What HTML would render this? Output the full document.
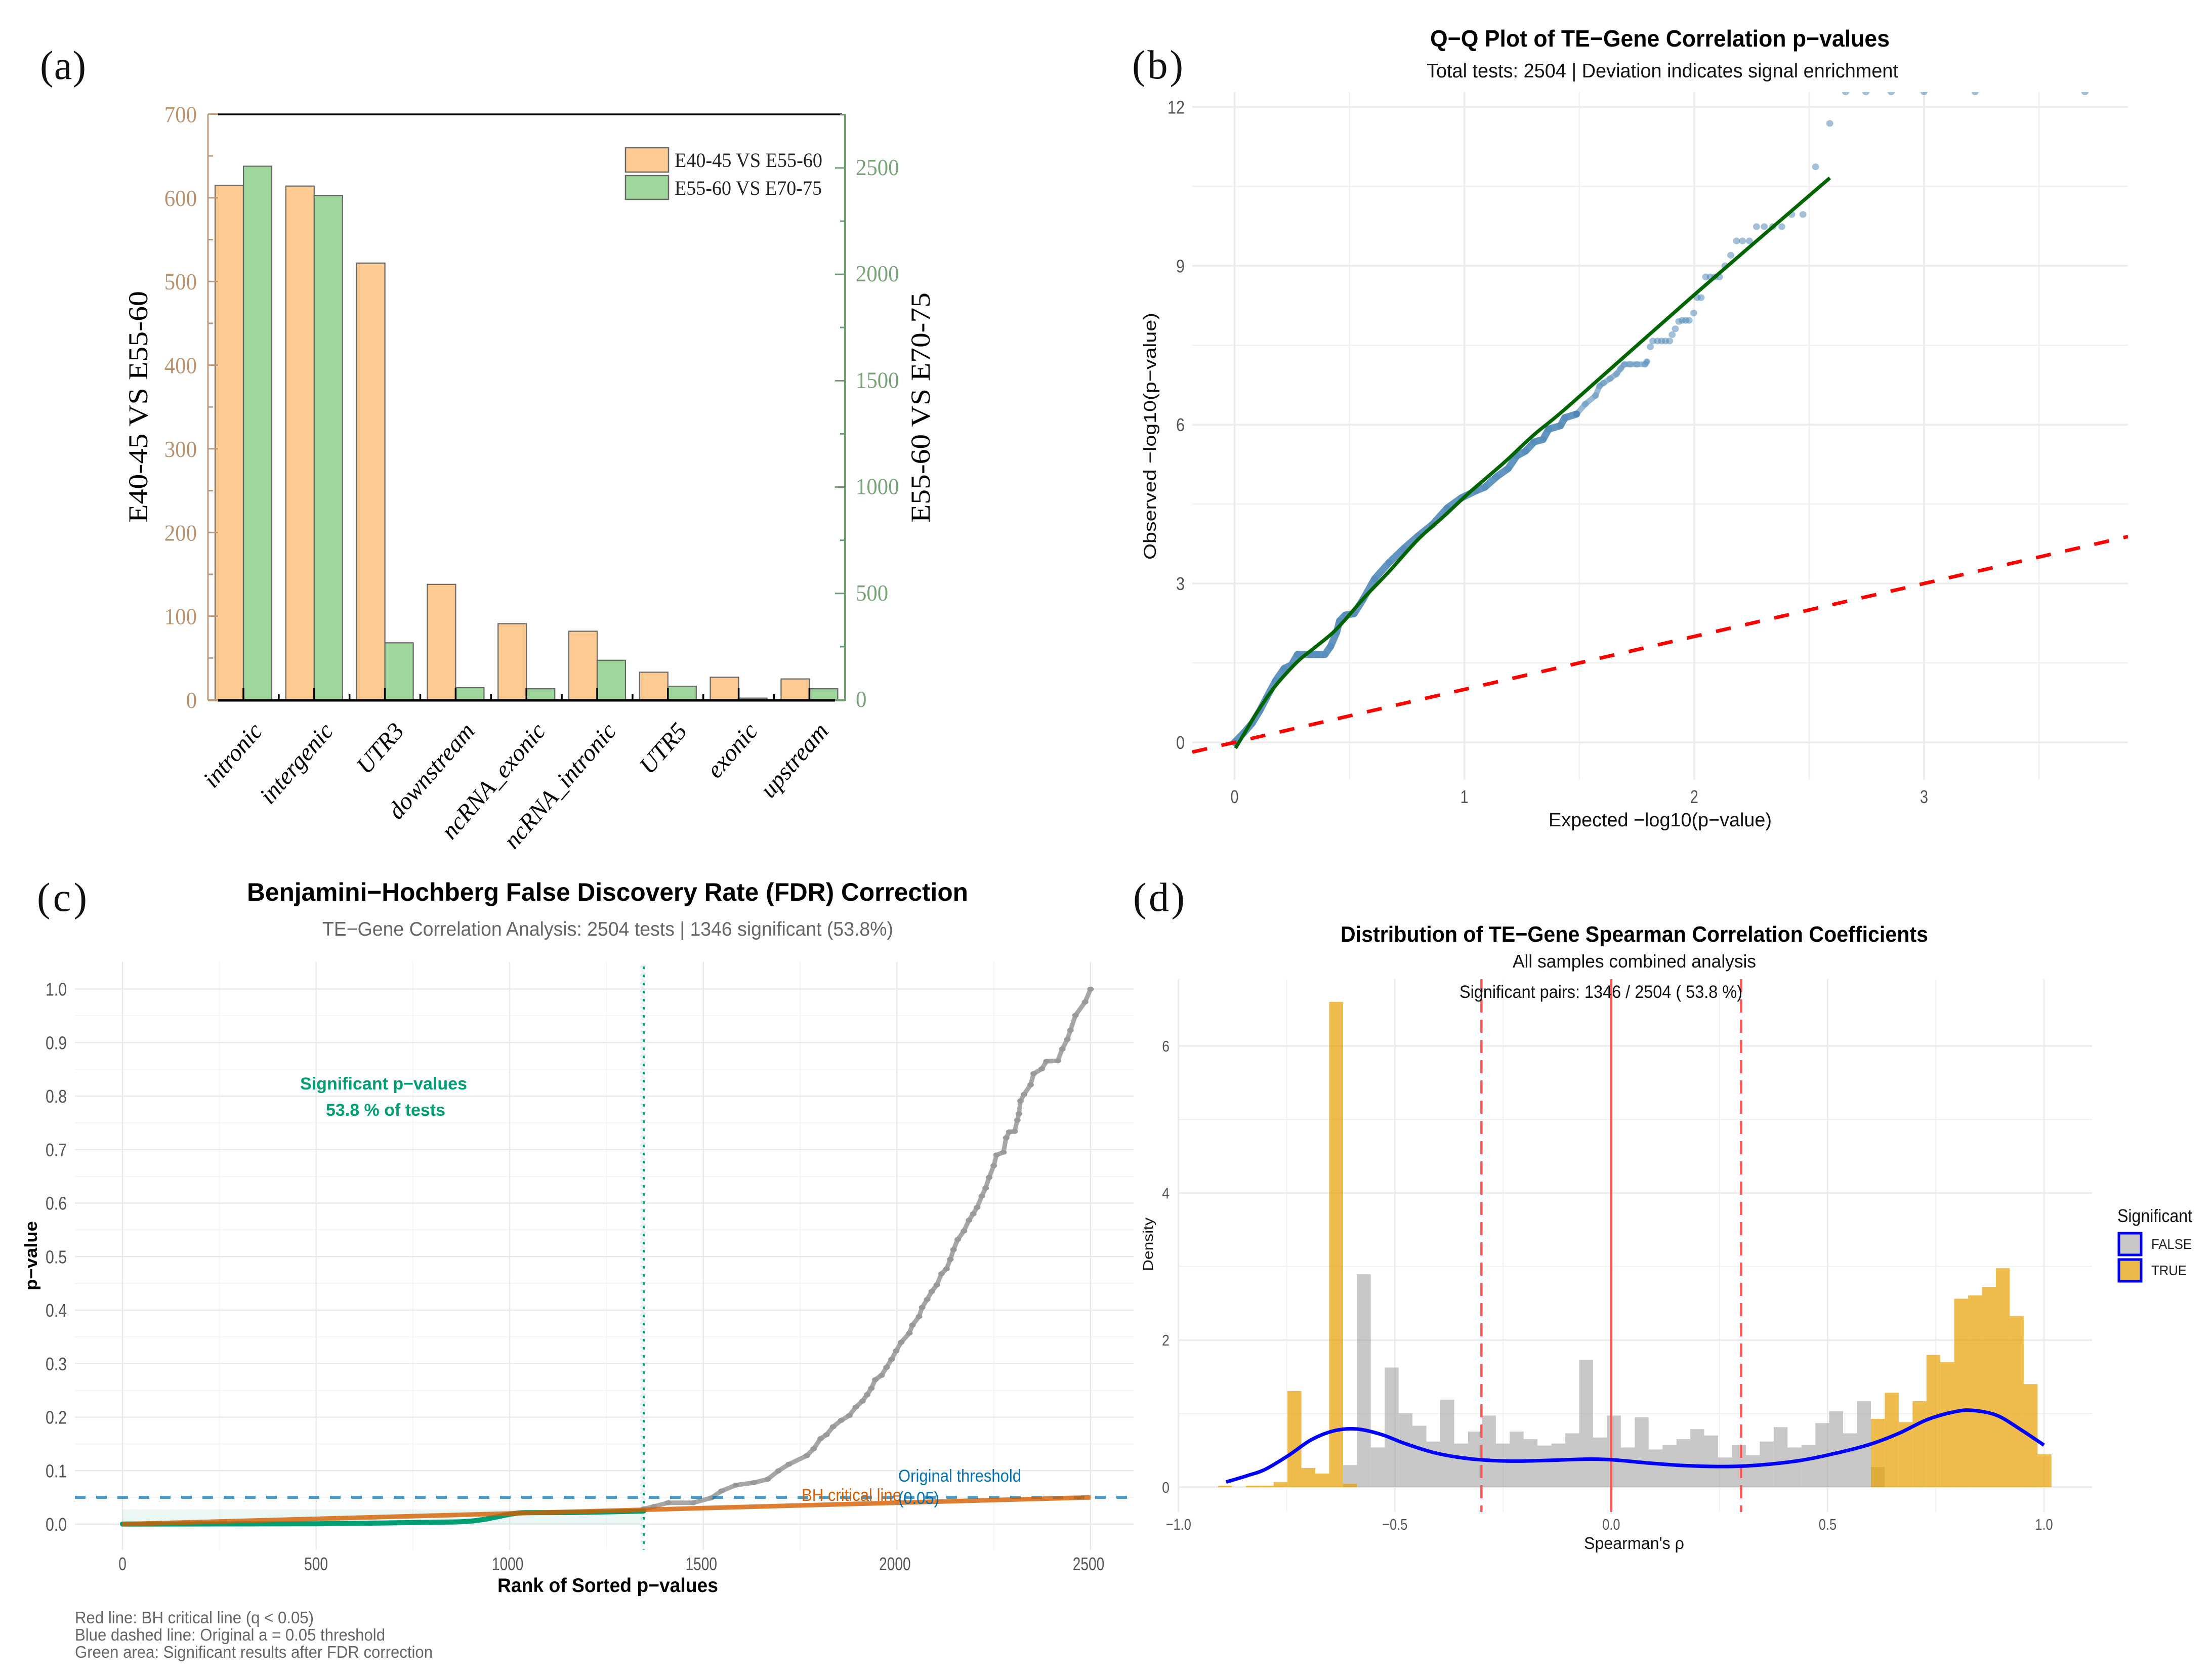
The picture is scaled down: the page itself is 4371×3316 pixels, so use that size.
<!DOCTYPE html>
<html lang="en">
<head>
<meta charset="utf-8">
<title>TE-Gene correlation figure</title>
<style>
html,body{margin:0;padding:0;background:#fff;}
svg{display:block;position:absolute;left:0;top:0;}
text{font-family:"Liberation Sans",sans-serif;}
.serif{font-family:"Liberation Serif",serif;}
</style>
</head>
<body>
<svg id="figure" xmlns="http://www.w3.org/2000/svg" width="4371" height="3316" viewBox="0 0 4371 3316">
  <defs>
    <clipPath id="clip-b"><rect x="2356" y="182" width="1849" height="1359"/></clipPath>
    <clipPath id="clip-c"><rect x="148" y="1901" width="2092" height="1162"/></clipPath>
    <clipPath id="clip-d"><rect x="2329" y="1935" width="1805" height="1053"/></clipPath>
  </defs>
  <rect x="0" y="0" width="4371" height="3316" fill="#ffffff"/>

  <g id="panel-a"></g>
  <g id="panel-b"></g>
  <g id="panel-c"></g>
  <g id="panel-d"></g>

  <!-- panel letters -->
  <text class="serif" x="79" y="156" font-size="80" textLength="91" lengthAdjust="spacing" fill="#111">(a)</text>
  <text class="serif" x="2237" y="155" font-size="80" textLength="101" lengthAdjust="spacing" fill="#111">(b)</text>
  <text class="serif" x="73" y="1800" font-size="80" textLength="99" lengthAdjust="spacing" fill="#111">(c)</text>
  <text class="serif" x="2239" y="1800" font-size="80" textLength="102" lengthAdjust="spacing" fill="#111">(d)</text>

  <!-- panel a static text -->
  <text class="serif" transform="translate(291,1033) rotate(-90)" font-size="54" textLength="458" lengthAdjust="spacingAndGlyphs" fill="#000">E40-45 VS E55-60</text>
  <text class="serif" transform="translate(1837,1033) rotate(-90)" font-size="54" textLength="455" lengthAdjust="spacingAndGlyphs" fill="#000">E55-60 VS E70-75</text>
  <rect x="1236" y="292" width="85" height="48" fill="#fdcb92" stroke="#666" stroke-width="2.5"/>
  <rect x="1236" y="347" width="85" height="47" fill="#9ed69b" stroke="#666" stroke-width="2.5"/>
  <text class="serif" x="1333" y="330" font-size="40" textLength="292" lengthAdjust="spacingAndGlyphs" fill="#222">E40-45 VS E55-60</text>
  <text class="serif" x="1333" y="385" font-size="40" textLength="291" lengthAdjust="spacingAndGlyphs" fill="#222">E55-60 VS E70-75</text>

  <!-- panel b static text -->
  <text x="2826" y="92" font-size="46" font-weight="bold" textLength="908" lengthAdjust="spacingAndGlyphs" fill="#000">Q−Q Plot of TE−Gene Correlation p−values</text>
  <text x="2819" y="153" font-size="39" textLength="932" lengthAdjust="spacingAndGlyphs" fill="#111">Total tests: 2504 | Deviation indicates signal enrichment</text>
  <text x="3060" y="1633" font-size="38" textLength="441" lengthAdjust="spacingAndGlyphs" fill="#111">Expected −log10(p−value)</text>
  <text transform="translate(2284,1106) rotate(-90)" font-size="34" textLength="488" lengthAdjust="spacingAndGlyphs" fill="#111">Observed −log10(p−value)</text>

  <!-- panel c static text -->
  <text x="488" y="1780" font-size="50" font-weight="bold" textLength="1425" lengthAdjust="spacingAndGlyphs" fill="#000">Benjamini−Hochberg False Discovery Rate (FDR) Correction</text>
  <text x="637" y="1849" font-size="39" textLength="1128" lengthAdjust="spacingAndGlyphs" fill="#666">TE−Gene Correlation Analysis: 2504 tests | 1346 significant (53.8%)</text>
  <text x="983" y="3146" font-size="39" font-weight="bold" textLength="436" lengthAdjust="spacingAndGlyphs" fill="#000">Rank of Sorted p−values</text>
  <text transform="translate(73,2550) rotate(-90)" font-size="34" font-weight="bold" textLength="137" lengthAdjust="spacingAndGlyphs" fill="#000">p−value</text>
  <text x="148" y="3208" font-size="33" textLength="472" lengthAdjust="spacingAndGlyphs" fill="#666">Red line: BH critical line (q &lt; 0.05)</text>
  <text x="148" y="3242" font-size="33" textLength="613" lengthAdjust="spacingAndGlyphs" fill="#666">Blue dashed line: Original a = 0.05 threshold</text>
  <text x="148" y="3276" font-size="33" textLength="707" lengthAdjust="spacingAndGlyphs" fill="#666">Green area: Significant results after FDR correction</text>

  <!-- panel d static text -->
  <text x="2649" y="1861" font-size="44" font-weight="bold" textLength="1161" lengthAdjust="spacingAndGlyphs" fill="#000">Distribution of TE−Gene Spearman Correlation Coefficients</text>
  <text x="2989" y="1912" font-size="36" textLength="481" lengthAdjust="spacingAndGlyphs" fill="#111">All samples combined analysis</text>
  <text x="3130" y="3061" font-size="33" textLength="198" lengthAdjust="spacingAndGlyphs" fill="#111">Spearman's ρ</text>
  <text transform="translate(2278,2512) rotate(-90)" font-size="28" textLength="106" lengthAdjust="spacingAndGlyphs" fill="#111">Density</text>
  <text x="4184" y="2415" font-size="36" textLength="148" lengthAdjust="spacingAndGlyphs" fill="#111">Significant</text>
  <rect x="4187" y="2437" width="44" height="43" fill="#c8c8c8" stroke="#0000ff" stroke-width="5"/>
  <rect x="4187" y="2489" width="44" height="43" fill="#ebb84a" stroke="#0000ff" stroke-width="5"/>
  <text x="4251" y="2468" font-size="28" textLength="80" lengthAdjust="spacingAndGlyphs" fill="#222">FALSE</text>
  <text x="4251" y="2520" font-size="28" textLength="70" lengthAdjust="spacingAndGlyphs" fill="#222">TRUE</text>
</svg>

<script>
// ---------- Panel (a) data ----------
const barCategories = ['intronic','intergenic','UTR3','downstream','ncRNA_exonic','ncRNA_intronic','UTR5','exonic','upstream'];
const barE40Values = [615,614,522,138,91,82,33,27,25];
const barE55Values = [2508,2371,268,57,52,186,64,8,52];
const barLeftTicks = [0,100,200,300,400,500,600,700];
const barRightTicks = [0,500,1000,1500,2000,2500];

// ---------- Panel (b) data ----------
const qqDenseExpected = [0,.04,.077,.11,.14,.178,.216,.248,.274,.30,.33,.36,.393,.418,.444,.457,.482,.52,.558,.609,.672,.735,.799,.862,.925,.988,1.051,1.089,1.14,1.19,1.228,1.266,1.304,1.342,1.367,1.418,1.437,1.488,1.526,1.571,1.588,1.605,1.634,1.662,1.68,1.696,1.72,1.75,1.786,1.794];
const qqDenseObserved = [0,.18,.364,.6,.848,1.157,1.396,1.463,1.66,1.66,1.66,1.66,1.66,1.813,2.076,2.295,2.405,2.43,2.69,3.085,3.394,3.656,3.898,4.117,4.424,4.62,4.753,4.82,5.017,5.17,5.41,5.5,5.675,5.72,5.916,5.98,6.13,6.2,6.39,6.55,6.73,6.786,6.87,6.957,7.06,7.14,7.14,7.14,7.14,7.19];
const qqSparseExpected = [1.809,1.82,1.84,1.858,1.875,1.893,1.904,1.918,1.933,1.948,1.963,1.978,1.998,2.013,2.03,2.05,2.07,2.09,2.11,2.134,2.159,2.184,2.21,2.24,2.271,2.305,2.342,2.381,2.424,2.473,2.528,2.59,2.659,2.747,2.857,3.0,3.222,3.70];
const qqSparseObserved = [7.47,7.58,7.58,7.58,7.58,7.58,7.70,7.81,7.95,7.97,7.97,7.97,8.11,8.40,8.40,8.79,8.79,8.79,8.79,9.0,9.2,9.47,9.47,9.47,9.74,9.74,9.74,9.74,9.97,9.97,10.87,11.69,12.285,12.285,12.285,12.285,12.285,12.285];
const qqFitExpected = [.004,.04,.1,.166,.216,.28,.343,.425,.482,.57,.671,.798,.911,1.025,1.177,1.303,1.461,2.0,2.59];
const qqFitObserved = [-.11,.15,.58,1.0,1.26,1.55,1.77,2.06,2.32,2.76,3.22,3.83,4.27,4.73,5.30,5.81,6.38,8.45,10.66];
const qqXTicks = [0,1,2,3];
const qqYTicks = [0,3,6,9,12];
const qqXMinor = [0.5,1.5,2.5,3.5];
const qqYMinor = [1.5,4.5,7.5,10.5];

// ---------- Panel (c) data ----------
const fdrGreyRanks = [1346,1372,1409,1474,1520,1547,1584,1630,1666,1694,1721,1767,1785,1803,1818,1835,1856,1877,1894,1911,1923,1934,1944,1960,1973,1986,1998,2011,2032,2040,2057,2065,2078,2090,2103,2115,2128,2138,2146,2157,2173,2186,2197,2207,2219,2229,2238,2250,2257,2275,2282,2290,2304,2311,2315,2319,2328,2345,2353,2374,2386,2415,2427,2440,2448,2461,2486,2500];
const fdrGreyValues = [.0287,.033,.040,.040,.049,.062,.073,.0775,.084,.0996,.112,.128,.141,.160,.167,.182,.194,.203,.219,.230,.242,.254,.270,.278,.293,.308,.324,.340,.357,.372,.388,.405,.420,.435,.447,.468,.477,.495,.513,.532,.548,.568,.580,.592,.613,.628,.648,.670,.690,.695,.722,.733,.734,.755,.767,.791,.803,.821,.842,.851,.865,.866,.888,.906,.923,.951,.976,1.0];
const fdrGreenRanks = [0,250,500,700,800,860,896,930,960,1000,1025,1040,1100,1200,1346];
const fdrGreenValues = [.0002,.0005,.0008,.0025,.0035,.0042,.0055,.0085,.0126,.0185,.021,.0215,.0217,.0222,.0245];
const fdrBhRanks = [0,2500];
const fdrBhValues = [0,.05];
const fdrSignificantRank = 1346;
const fdrAreaTop = .0277;
const fdrThreshold = .05;
const fdrXTicks = [0,500,1000,1500,2000,2500];
const fdrXMinor = [250,750,1250,1750,2250];
const fdrYTicks = [0,.1,.2,.3,.4,.5,.6,.7,.8,.9,1];
const fdrYMinor = [.05,.15,.25,.35,.45,.55,.65,.75,.85,.95];

// ---------- Panel (d) data ----------
const histBinStart = -.9087;
const histBinWidth = .0321;
const histGreyBins = [0,0,0,0,0,0,0,0,0,.30,2.895,.54,1.627,1.004,.835,.62,1.19,.593,.756,.974,.593,.756,.653,.566,.593,.732,1.728,.675,.974,.539,.952,.512,.571,.653,.789,.702,.403,.571,.435,.62,.816,.539,.571,.871,1.034,.732,1.17,.272];
const histGoldBins = [.02,0,.02,.02,.07,1.306,.26,.185,6.6,.044,0,0,0,0,0,0,0,0,0,0,0,0,0,0,0,0,0,0,0,0,0,0,0,0,0,0,0,0,0,0,0,0,0,0,0,0,0,.928,1.284,.884,1.17,1.796,1.70,2.563,2.607,2.724,2.977,2.327,1.401,.446];
const densityRho = [-.89,-.84,-.8,-.746,-.692,-.638,-.587,-.531,-.477,-.41,-.343,-.276,-.209,-.128,-.048,.006,.087,.167,.261,.342,.436,.516,.597,.664,.731,.798,.839,.892,.946,1.0];
const densityValues = [.07,.158,.24,.43,.648,.77,.79,.716,.593,.47,.397,.362,.354,.367,.381,.37,.327,.294,.28,.30,.362,.457,.58,.73,.92,1.03,1.042,.974,.784,.571];
const histXTicks = [-1,-.5,0,.5,1];
const histXTickLabels = ['−1.0','−0.5','0.0','0.5','1.0'];
const histXMinor = [-.75,-.25,.25,.75];
const histYTicks = [0,2,4,6];
const histYMinor = [1,3,5];
const histDashRefs = [-.3,.3];
const histZeroRef = 0;

// ---------- helpers ----------
const NS = 'http://www.w3.org/2000/svg';
function mk(parent, tag, attrs) {
  const el = document.createElementNS(NS, tag);
  for (const k in attrs) el.setAttribute(k, attrs[k]);
  parent.appendChild(el);
  return el;
}
function linear(d0, d1, r0, r1) {
  return v => r0 + (v - d0) * (r1 - r0) / (d1 - d0);
}
function squeeze(el, factor) {
  const n = el.getComputedTextLength();
  el.setAttribute('textLength', (n * factor).toFixed(1));
  el.setAttribute('lengthAdjust', 'spacingAndGlyphs');
}
function pathOf(xs, ys, fx, fy) {
  return xs.map((x, i) => (i ? 'L' : 'M') + fx(x).toFixed(1) + ' ' + fy(ys[i]).toFixed(1)).join('');
}
// Catmull-Rom smoothing through the data points, for curves that are smooth in the source
function smoothOf(xs, ys, fx, fy) {
  const px = xs.map(fx), py = ys.map(fy);
  let d = 'M' + px[0].toFixed(1) + ' ' + py[0].toFixed(1);
  for (let i = 0; i < px.length - 1; i++) {
    const a = Math.max(i - 1, 0), b = Math.min(i + 2, px.length - 1);
    const c1x = px[i] + (px[i + 1] - px[a]) / 6, c1y = py[i] + (py[i + 1] - py[a]) / 6;
    const c2x = px[i + 1] - (px[b] - px[i]) / 6, c2y = py[i + 1] - (py[b] - py[i]) / 6;
    d += 'C' + c1x.toFixed(1) + ' ' + c1y.toFixed(1) + ' ' + c2x.toFixed(1) + ' ' + c2y.toFixed(1) + ' ' + px[i + 1].toFixed(1) + ' ' + py[i + 1].toFixed(1);
  }
  return d;
}

// ---------- Panel (a) ----------
(function () {
  const g = document.getElementById('panel-a');
  const yL = linear(0, 700, 1383, 225.5);
  const yR = linear(0, 2753, 1383, 225.5);
  const catX = linear(0, 1, 481, 620.8);
  const bw = 56;
  const tan = '#bd9a7a', grn = '#6f9d6f';

  barCategories.forEach((c, i) => {
    const a = mk(g, 'rect', {x: catX(i) - bw, y: yL(barE40Values[i]), width: bw, height: 1383 - yL(barE40Values[i]), fill: '#fdcb92', stroke: '#666666', 'stroke-width': 2.2});
    
    
    const b = mk(g, 'rect', {x: catX(i), y: yR(barE55Values[i]), width: bw, height: 1383 - yR(barE55Values[i]), fill: '#9ed69b', stroke: '#666666', 'stroke-width': 2.2});
    
    
  });

  const leftAxis = mk(g, 'line', {x1: 411, x2: 411, y1: 225.5, y2: 1384, stroke: tan, 'stroke-width': 3});
  
  
  const rightAxis = mk(g, 'line', {x1: 1670, x2: 1670, y1: 225.5, y2: 1385, stroke: grn, 'stroke-width': 4});
  
  
  const topAxis = mk(g, 'line', {x1: 431, x2: 1664, y1: 226, y2: 226, stroke: '#000', 'stroke-width': 3.5});
  
  
  const bottomAxis = mk(g, 'line', {x1: 430, x2: 1650, y1: 1384, y2: 1384, stroke: '#000', 'stroke-width': 5});
  
  
  const leftStub = mk(g, 'line', {x1: 411, x2: 431, y1: 1384, y2: 1384, stroke: tan, 'stroke-width': 4});
  
  
  const rightStub = mk(g, 'line', {x1: 1650, x2: 1670, y1: 1384, y2: 1384, stroke: grn, 'stroke-width': 4});
  
  

  barLeftTicks.forEach((t) => {
    const tick = mk(g, 'line', {x1: 411, x2: 431, y1: yL(t), y2: yL(t), stroke: tan, 'stroke-width': 3});
    
    
    if (t < 700) {
      const m = mk(g, 'line', {x1: 411, x2: 421, y1: yL(t + 50), y2: yL(t + 50), stroke: tan, 'stroke-width': 3});
      
      
    }
    const lab = mk(g, 'text', {x: 389, y: yL(t) + 16, 'font-size': 46, 'text-anchor': 'end', fill: '#b9926f', class: 'serif'});
    lab.textContent = String(t);
    squeeze(lab, .93);
    
    
  });

  barRightTicks.forEach((t) => {
    const tick = mk(g, 'line', {x1: 1670, x2: 1650, y1: yR(t), y2: yR(t), stroke: grn, 'stroke-width': 3});
    
    
    const mv = t + 250;
    if (mv < 2753) {
      const m = mk(g, 'line', {x1: 1670, x2: 1660, y1: yR(mv), y2: yR(mv), stroke: grn, 'stroke-width': 3});
      
      
    }
    const lab = mk(g, 'text', {x: 1691, y: yR(t) + 14, 'font-size': 46, fill: '#77a377', class: 'serif'});
    lab.textContent = String(t);
    squeeze(lab, .93);
    
    
  });

  barCategories.forEach((c, i) => {
    const t1 = mk(g, 'line', {x1: catX(i), x2: catX(i), y1: 1360, y2: 1384, stroke: '#000', 'stroke-width': 3.5});
    
    
    if (i < barCategories.length - 1) {
      const t2 = mk(g, 'line', {x1: catX(i + .5), x2: catX(i + .5), y1: 1372, y2: 1384, stroke: '#000', 'stroke-width': 3.5});
      
      
    }
    const ex = catX(i) + 30, ey = 1436;
    const lab = mk(g, 'text', {x: 0, y: 0, 'font-size': 48, 'font-style': 'italic', 'text-anchor': 'end', fill: '#000', class: 'serif', transform: 'translate(' + (ex + 10) + ',' + (ey + 10) + ') rotate(-49)'});
    lab.textContent = c;
    
    
  });
})();

// ---------- Panel (b) ----------
(function () {
  const g = document.getElementById('panel-b');
  const L = 2356, R = 4205, T = 182, B = 1541;
  const x = linear(0, 3, 2439.5, 3802);
  const y = linear(0, 12, 1467, 211.4);
  const xInv = linear(2439.5, 3802, 0, 3);

  qqXMinor.forEach(v => {
    const l = mk(g, 'line', {x1: x(v), x2: x(v), y1: T, y2: B, stroke: '#f1f1f1', 'stroke-width': 2.5});
    
    
  });
  qqYMinor.forEach(v => {
    const l = mk(g, 'line', {x1: L, x2: R, y1: y(v), y2: y(v), stroke: '#f1f1f1', 'stroke-width': 2.5});
    
    
  });
  qqXTicks.forEach(v => {
    const l = mk(g, 'line', {x1: x(v), x2: x(v), y1: T, y2: B, stroke: '#ececec', 'stroke-width': 3.5});
    
    
    const t = mk(g, 'text', {x: x(v), y: 1587, 'font-size': 36, 'text-anchor': 'middle', fill: '#555'});
    t.textContent = String(v);
    squeeze(t, .8);
    
    
  });
  qqYTicks.forEach(v => {
    const l = mk(g, 'line', {x1: L, x2: R, y1: y(v), y2: y(v), stroke: '#ececec', 'stroke-width': 3.5});
    
    
    const t = mk(g, 'text', {x: 2341, y: y(v) + 13, 'font-size': 36, 'text-anchor': 'end', fill: '#555'});
    t.textContent = String(v);
    squeeze(t, .85);
    
    
  });

  const clipG = mk(g, 'g', {'clip-path': 'url(#clip-b)'});
  
  

  const solidEnd = 38;
  const ridge = mk(clipG, 'path', {d: pathOf(qqDenseExpected.slice(0, solidEnd), qqDenseObserved.slice(0, solidEnd), x, y), fill: 'none', stroke: '#4682b4', 'stroke-opacity': .85, 'stroke-width': 14, 'stroke-linejoin': 'round', 'stroke-linecap': 'round'});
  
  
  const ridgeTail = mk(clipG, 'path', {d: pathOf(qqDenseExpected.slice(solidEnd - 1), qqDenseObserved.slice(solidEnd - 1), x, y), fill: 'none', stroke: '#4682b4', 'stroke-opacity': .55, 'stroke-width': 11, 'stroke-linejoin': 'round', 'stroke-linecap': 'round'});
  
  

  qqSparseExpected.forEach((v, i) => {
    const c = mk(clipG, 'ellipse', {cx: x(v), cy: y(qqSparseObserved[i]), rx: 7, ry: 6.6, fill: '#4682b4', 'fill-opacity': .5});
    
    
  });
  qqDenseExpected.forEach((v, i) => {
    const c = mk(clipG, 'ellipse', {cx: x(v), cy: y(qqDenseObserved[i]), rx: 7, ry: 6.6, fill: '#4682b4', 'fill-opacity': .35});
    
    
  });

  const fit = mk(clipG, 'path', {d: smoothOf(qqFitExpected, qqFitObserved, x, y), fill: 'none', stroke: '#006400', 'stroke-width': 7, 'stroke-linejoin': 'round'});
  
  

  const d0 = xInv(L), d1 = xInv(R);
  const ref = mk(clipG, 'line', {x1: L, x2: R, y1: y(d0), y2: y(d1), stroke: '#ff0000', 'stroke-width': 7, 'stroke-dasharray': '30 29'});
  
  
})();

// ---------- Panel (c) ----------
(function () {
  const g = document.getElementById('panel-c');
  const L = 148, R = 2240, T = 1901, B = 3063;
  const x = linear(0, 2500, 242, 2155);
  const y = linear(0, 1, 3012, 1954.6);

  fdrXMinor.forEach(v => {
    const l = mk(g, 'line', {x1: x(v), x2: x(v), y1: T, y2: B, stroke: '#f3f3f3', 'stroke-width': 1.6});
    
    
  });
  fdrYMinor.forEach(v => {
    const l = mk(g, 'line', {x1: L, x2: R, y1: y(v), y2: y(v), stroke: '#f3f3f3', 'stroke-width': 1.6});
    
    
  });
  fdrXTicks.forEach(v => {
    const l = mk(g, 'line', {x1: x(v), x2: x(v), y1: T, y2: B, stroke: '#e8e8e8', 'stroke-width': 2.4});
    
    
    const t = mk(g, 'text', {x: x(v) - (v >= 1000 ? 4 : 0), y: 3103, 'font-size': 36, 'text-anchor': 'middle', fill: '#555'});
    t.textContent = String(v);
    squeeze(t, .78);
    
    
  });
  fdrYTicks.forEach(v => {
    const l = mk(g, 'line', {x1: L, x2: R, y1: y(v), y2: y(v), stroke: '#e8e8e8', 'stroke-width': 2.4});
    
    
    const t = mk(g, 'text', {x: 132, y: y(v) + 13, 'font-size': 36, 'text-anchor': 'end', fill: '#555'});
    t.textContent = v.toFixed(1);
    squeeze(t, .84);
    
    
  });

  const clipG = mk(g, 'g', {'clip-path': 'url(#clip-c)'});
  
  

  const area = mk(clipG, 'rect', {x: x(0), y: y(fdrAreaTop), width: x(fdrSignificantRank) - x(0), height: y(0) - y(fdrAreaTop), fill: '#009e73', 'fill-opacity': .08});
  
  

  const sig = mk(clipG, 'line', {x1: x(fdrSignificantRank), x2: x(fdrSignificantRank), y1: 1910, y2: B, stroke: '#009e73', 'stroke-width': 4, 'stroke-dasharray': '5 11'});
  
  

  const greyLine = mk(clipG, 'path', {d: pathOf(fdrGreyRanks, fdrGreyValues, x, y), fill: 'none', stroke: '#a6a6a6', 'stroke-width': 9, 'stroke-linejoin': 'round'});
  
  
  fdrGreyRanks.forEach((r, i) => {
    const c = mk(clipG, 'ellipse', {cx: x(r), cy: y(fdrGreyValues[i]), rx: 6.5, ry: 5, fill: '#999'});
    
    
  });

  const thr = mk(clipG, 'line', {x1: L, x2: R, y1: y(fdrThreshold), y2: y(fdrThreshold), stroke: '#0072b2', 'stroke-opacity': .7, 'stroke-width': 6, 'stroke-dasharray': '21 21'});
  
  

  const green = mk(clipG, 'path', {d: smoothOf(fdrGreenRanks, fdrGreenValues, x, y), fill: 'none', stroke: '#009e73', 'stroke-width': 10, 'stroke-linejoin': 'round', 'stroke-linecap': 'round'});
  
  

  const bh = mk(clipG, 'path', {d: pathOf(fdrBhRanks, fdrBhValues, x, y), fill: 'none', stroke: '#d55e00', 'stroke-opacity': .8, 'stroke-width': 9});
  
  

  const labels = [
    ['Significant p−values', 593, 2153, 330, 34, '#009e73', 'bold', 'annotation-significant-label'],
    ['53.8 % of tests', 644, 2205, 236, 34, '#009e73', 'bold', 'annotation-percent-label'],
    ['BH critical line', 1584, 2966, 197, 34, '#d55e00', 'normal', 'annotation-bh-line-label'],
    ['Original threshold', 1775, 2928, 243, 34, '#0072b2', 'normal', 'annotation-threshold-label'],
    ['(0.05)', 1775, 2972, 81, 34, '#0072b2', 'normal', 'annotation-threshold-value']
  ];
  labels.forEach(a => {
    const t = mk(g, 'text', {x: a[1], y: a[2], textLength: a[3], lengthAdjust: 'spacingAndGlyphs', 'font-size': a[4], fill: a[5], 'font-weight': a[6]});
    t.textContent = a[0];
    
    
  });
})();

// ---------- Panel (d) ----------
(function () {
  const g = document.getElementById('panel-d');
  const L = 2329, R = 4134, T = 1935, B = 2988;
  const x = linear(-1, 1, 2328.8, 4039);
  const y = linear(0, 6, 2938.8, 2067);

  histXMinor.forEach(v => {
    const l = mk(g, 'line', {x1: x(v), x2: x(v), y1: T, y2: B, stroke: '#f1f1f1', 'stroke-width': 2});
    
    
  });
  histYMinor.forEach(v => {
    const l = mk(g, 'line', {x1: L, x2: R, y1: y(v), y2: y(v), stroke: '#f1f1f1', 'stroke-width': 2.4});
    
    
  });
  histXTicks.forEach((v, i) => {
    const l = mk(g, 'line', {x1: x(v), x2: x(v), y1: T, y2: B, stroke: '#ececec', 'stroke-width': 3});
    
    
    const t = mk(g, 'text', {x: x(v), y: 3023, 'font-size': 31, 'text-anchor': 'middle', fill: '#555'});
    t.textContent = histXTickLabels[i];
    squeeze(t, .82);
    
    
  });
  histYTicks.forEach(v => {
    const l = mk(g, 'line', {x1: L, x2: R, y1: y(v), y2: y(v), stroke: '#ececec', 'stroke-width': 3.5});
    
    
    const t = mk(g, 'text', {x: 2311, y: y(v) + 11, 'font-size': 31, 'text-anchor': 'end', fill: '#555'});
    t.textContent = String(v);
    squeeze(t, .85);
    
    
  });

  const clipG = mk(g, 'g', {'clip-path': 'url(#clip-d)'});
  
  

  histGreyBins.forEach((v, i) => {
    if (!v) return;
    const x0 = x(histBinStart + i * histBinWidth), x1 = x(histBinStart + (i + 1) * histBinWidth);
    const r = mk(clipG, 'rect', {x: x0, y: y(v), width: x1 - x0, height: y(0) - y(v), fill: '#999999', 'fill-opacity': .54});
    
    
  });
  histGoldBins.forEach((v, i) => {
    if (!v) return;
    const x0 = x(histBinStart + i * histBinWidth), x1 = x(histBinStart + (i + 1) * histBinWidth);
    const r = mk(clipG, 'rect', {x: x0, y: y(v), width: x1 - x0, height: y(0) - y(v), fill: '#e69f00', 'fill-opacity': .7});
    
    
  });

  histDashRefs.forEach(v => {
    const l = mk(clipG, 'line', {x1: x(v), x2: x(v), y1: T, y2: B, stroke: '#ff5555', 'stroke-width': 4.5, 'stroke-dasharray': '26 14'});
    
    
  });
  const zero = mk(clipG, 'line', {x1: x(histZeroRef), x2: x(histZeroRef), y1: T, y2: B, stroke: '#ff5555', 'stroke-width': 4.5});
  
  

  const dens = mk(clipG, 'path', {d: smoothOf(densityRho, densityValues, x, y), fill: 'none', stroke: '#0000ff', 'stroke-width': 7, 'stroke-linejoin': 'round'});
  
  

  const note = mk(g, 'text', {x: 2884, y: 1972, textLength: 559, lengthAdjust: 'spacingAndGlyphs', 'font-size': 35, fill: '#111'});
  note.textContent = 'Significant pairs: 1346 / 2504 ( 53.8 %)';
  
  
})();
</script>
</body>
</html>
